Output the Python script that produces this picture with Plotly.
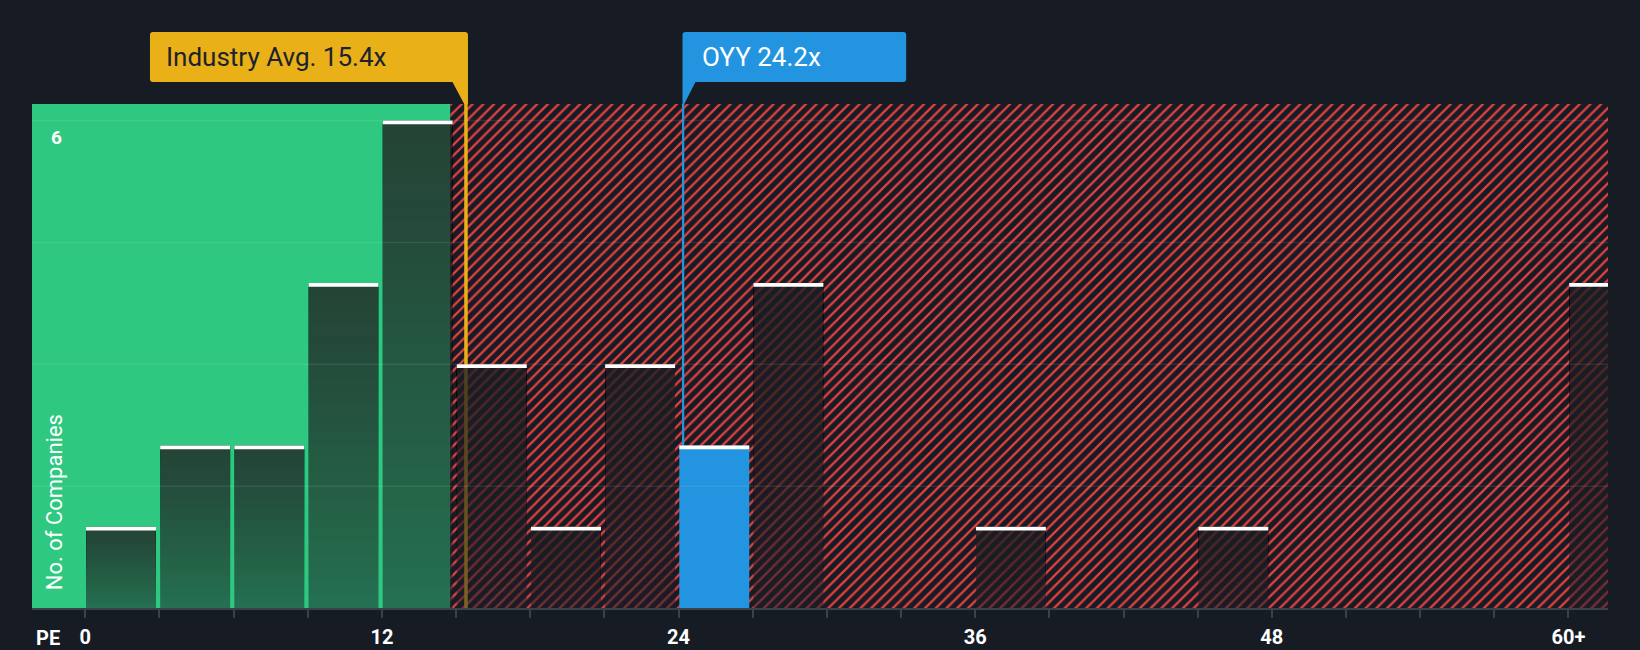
import plotly.graph_objects as go

# ---------------- data ----------------
bin_starts = [0, 3, 6, 9, 12, 15, 18, 21, 24, 27, 36, 45, 60]
counts = [1, 2, 2, 4, 6, 3, 1, 3, 2, 4, 1, 1, 4]
bin_width = 3
tick_vals = [0, 12, 24, 36, 48, 60]
tick_text = ["0", "12", "24", "36", "48", "60+"]
grid_vals = [1.5, 3, 4.5, 6]
industry_avg = 15.4
industry_label = "Industry Avg. 15.4x"
company_name = "OYY"
company_pe = 24.2
company_label = "OYY 24.2x"
y_axis_label = "No. of Companies"
x_axis_label = "PE"
max_label = "6"

# ---------------- style / layout ----------------
BG = "#161b24"
GREEN = "#2ec880"
RED = "#e0403f"
GOLD = "#e9b018"
BLUE = "#2394df"
WHITE = "#ffffff"
AXIS = "#3b414b"
FONT = "Roboto, sans-serif"

W, H = 1640, 650
ML, MR, MT, MB = 32, 32, 104, 42
x_min, x_max = -2.156, 61.6
y_max = 6.204
plot_w = W - ML - MR
plot_h = H - MT - MB
px_x = plot_w / (x_max - x_min)
px_y = plot_h / y_max

bar_off0, bar_off1 = 0.03, 2.86
green_end = 14.77
cap = 3.7 / px_y

fig = go.Figure()

# hatched "expensive" region
fig.add_trace(go.Bar(
    x=[(green_end + x_max) / 2], y=[y_max], base=[0], width=[x_max - green_end],
    marker=dict(color=BG, line=dict(width=0),
                pattern=dict(shape="/", fgcolor=RED, bgcolor=BG, size=7.6,
                             solidity=0.3, fillmode="replace")),
    hoverinfo="skip"))

# marker lines (drawn as thin bars so overlays dim them)
fig.add_trace(go.Bar(x=[industry_avg], y=[y_max], base=[0], width=[3.5 / px_x],
                     marker=dict(color=GOLD, line=dict(width=0)), hoverinfo="skip"))
fig.add_trace(go.Bar(x=[company_pe], y=[y_max], base=[0], width=[1.5 / px_x],
                     marker=dict(color=BLUE, line=dict(width=0)), hoverinfo="skip"))

centers = [s + (bar_off0 + bar_off1) / 2 for s in bin_starts]
bw = bar_off1 - bar_off0
is_company = [s <= company_pe < s + bin_width for s in bin_starts]
other = [i for i, c in enumerate(is_company) if not c]
comp = [i for i, c in enumerate(is_company) if c]

# dark overlay bars with vertical gradient (stacked translucent layers)
N = 24
a_bottom, a_top = 0.52, 0.75
a_step = 1 - ((1 - a_top) / (1 - a_bottom)) ** (1 / (N - 1))
for k in range(N):
    a = a_bottom if k == 0 else a_step
    fig.add_trace(go.Bar(
        x=[centers[i] for i in other],
        y=[counts[i] * (1 - k / N) for i in other],
        base=[counts[i] * k / N for i in other],
        width=bw,
        marker=dict(color=f"rgba(28,31,41,{a:.4f})", line=dict(width=0)),
        hoverinfo="skip"))

# company bar
fig.add_trace(go.Bar(x=[centers[i] for i in comp], y=[counts[i] for i in comp],
                     base=[0 for i in comp], width=bw,
                     marker=dict(color=BLUE, line=dict(width=0)), hoverinfo="skip"))

# white caps
fig.add_trace(go.Bar(x=centers, y=[cap] * len(counts), base=[c - cap for c in counts],
                     width=bw, marker=dict(color=WHITE, line=dict(width=0)),
                     hoverinfo="skip"))

shapes = []
# green region
shapes.append(dict(type="rect", xref="x", yref="paper", x0=x_min, x1=green_end,
                   y0=0, y1=1, fillcolor=GREEN, line=dict(width=0), layer="below"))
# gridlines
for g in grid_vals:
    shapes.append(dict(type="line", xref="paper", yref="y", x0=0, x1=1, y0=g, y1=g,
                       line=dict(color="rgba(255,255,255,0.09)", width=1.5), layer="above"))

# industry label box (pixel offsets relative to line / plot top)
ind_path = ("M -313,72 L -1,72 Q 2,72 2,69 L 2,0 L -1.75,0 L -13.5,22 "
            "L -313,22 Q -316,22 -316,25 L -316,69 Q -316,72 -313,72 Z")
shapes.append(dict(type="path", xref="x", yref="paper", xsizemode="pixel",
                   ysizemode="pixel", xanchor=industry_avg, yanchor=1,
                   path=ind_path, fillcolor=GOLD, line=dict(width=0), layer="above"))
cmp_path = ("M 2,72 L 219.7,72 Q 222.7,72 222.7,69 L 222.7,25 Q 222.7,22 219.7,22 "
            "L 12,22 L 0.75,0 L -1,0 L -1,69 Q -1,72 2,72 Z")
shapes.append(dict(type="path", xref="x", yref="paper", xsizemode="pixel",
                   ysizemode="pixel", xanchor=company_pe, yanchor=1,
                   path=cmp_path, fillcolor=BLUE, line=dict(width=0), layer="above"))

annotations = [
    dict(text=industry_label, xref="x", yref="paper", x=industry_avg, y=1,
         xanchor="left", yanchor="middle", xshift=-302, yshift=47, showarrow=False,
         font=dict(family=FONT, size=26, color="#1b2230")),
    dict(text=company_label, xref="x", yref="paper", x=company_pe, y=1,
         xanchor="left", yanchor="middle", xshift=16, yshift=47, showarrow=False,
         font=dict(family=FONT, size=26, color=WHITE)),
    dict(text=y_axis_label, xref="paper", yref="paper", x=(54.7 - ML) / plot_w,
         y=(H - MB - 502.5) / plot_h, xanchor="center", yanchor="middle",
         textangle=-90, showarrow=False, font=dict(family=FONT, size=22, color=WHITE)),
    dict(text=max_label, xref="paper", yref="y", x=(56 - ML) / plot_w, y=6,
         xanchor="center", yanchor="middle", yshift=-16.5, showarrow=False,
         font=dict(family=FONT, size=19, color=WHITE, weight="bold")),
    dict(text=x_axis_label, xref="paper", yref="paper", x=(47.5 - ML) / plot_w, y=0,
         xanchor="center", yanchor="middle", yshift=-30, showarrow=False,
         font=dict(family=FONT, size=20, color=WHITE, weight="bold")),
]

all_ticks = list(range(0, 61, bin_width))
all_text = [tick_text[tick_vals.index(t)] if t in tick_vals else "" for t in all_ticks]

fig.update_layout(
    width=W, height=H,
    margin=dict(l=ML, r=MR, t=MT, b=MB, pad=0, autoexpand=False),
    paper_bgcolor=BG, plot_bgcolor=BG,
    barmode="overlay", showlegend=False,
    shapes=shapes, annotations=annotations,
    xaxis=dict(range=[x_min, x_max], tickmode="array", tickvals=all_ticks,
               ticktext=all_text, ticks="outside", ticklen=8, tickwidth=1.5,
               tickcolor=AXIS, showline=True, linecolor=AXIS, linewidth=2,
               showgrid=False, zeroline=False, layer="above traces",
               ticklabelstandoff=2, automargin=False,
               tickfont=dict(family=FONT, size=20, color=WHITE, weight="bold"),
               fixedrange=True),
    yaxis=dict(range=[0, y_max], visible=False, showgrid=False, zeroline=False,
               automargin=False, fixedrange=True),
)

fig.write_html("out.html", config={"displayModeBar": False},
               post_script="document.body.style.margin='0';document.body.style.background='#161b24';")
